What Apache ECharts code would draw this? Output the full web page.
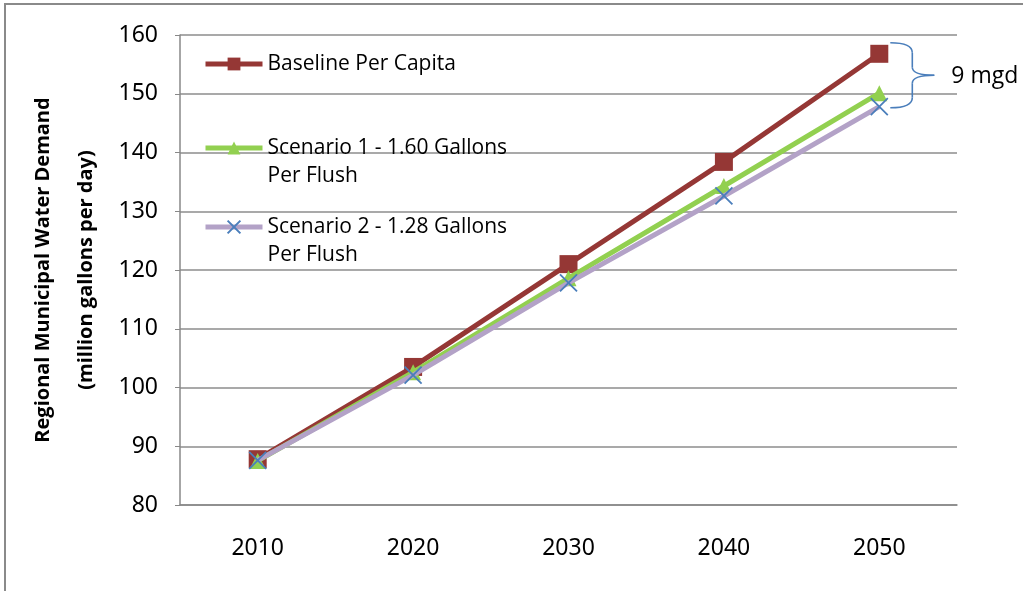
<!DOCTYPE html>
<html>
<head>
<meta charset="utf-8">
<script src="https://cdn.jsdelivr.net/npm/echarts@6/dist/echarts.min.js"></script>
<style>
  html, body { margin: 0; padding: 0; background: #fff; }
  #main { width: 1023px; height: 591px; }
</style>
</head>
<body>
<div id="main"></div>
<script>
// data
var years = ['2010', '2020', '2030', '2040', '2050'];
var baseline = [87.8, 103.5, 121.0, 138.4, 156.8];
var scenario1 = [87.5, 102.6, 118.6, 134.3, 150.1];
var scenario2 = [87.6, 102.1, 117.8, 132.6, 147.8];
var names = ['Baseline Per Capita', 'Scenario 1 - 1.60 Gallons Per Flush', 'Scenario 2 - 1.28 Gallons Per Flush'];
var yTicks = [80, 90, 100, 110, 120, 130, 140, 150, 160];
var gapLabel = '9 mgd';

var textFont = "'Open Sans', 'Noto Sans', sans-serif";
var labelFont = "'Noto Sans', sans-serif";

var chart = echarts.init(document.getElementById('main'));

function legendFor(i, top) {
    return {
        data: [names[i]],
        left: 203,
        top: top,
        padding: 0,
        itemWidth: 57,
        itemHeight: 16,
        lineStyle: { width: 5 },
        formatter: function (n) {
            // wrapped names get an empty first line so line one sits on the icon
            return n.indexOf(' Per Flush') > 0 ? '\n' + n.replace(' Per Flush', '\nPer Flush') : n;
        },
        textStyle: { fontFamily: textFont, fontSize: 21, color: '#000', lineHeight: 28 }
    };
}

chart.setOption({
    animation: false,
    grid: { left: 180, right: 66, top: 35, bottom: 86, outerBoundsMode: 'none' },
    legend: [legendFor(0, 50), legendFor(1, 106), legendFor(2, 185)],
    xAxis: {
        type: 'category',
        data: years,
        boundaryGap: true,
        axisLine: { lineStyle: { color: '#888', width: 1.5 } },
        axisTick: { length: 8, lineStyle: { color: '#888', width: 1 } },
        axisLabel: { margin: 32, fontFamily: labelFont, fontSize: 23, color: '#000' }
    },
    yAxis: {
        type: 'value',
        min: yTicks[0],
        max: yTicks[yTicks.length - 1],
        interval: 10,
        name: 'Regional Municipal Water Demand\n(million gallons per day)',
        nameLocation: 'middle',
        nameRotate: 90,
        nameGap: 66,
        nameTextStyle: { fontFamily: textFont, fontSize: 20, fontWeight: 'bold', color: '#000', lineHeight: 43 },
        axisLine: { show: true, lineStyle: { color: '#888', width: 1.5 } },
        axisTick: { show: true, length: 5, lineStyle: { color: '#888' } },
        axisLabel: { margin: 22, fontFamily: labelFont, fontSize: 23, color: '#000' },
        splitLine: { lineStyle: { color: '#8c8c8c', width: 1.5 } }
    },
    series: [
        {
            name: names[0], type: 'line', data: baseline, z: 3,
            symbol: 'rect', symbolSize: 18,
            lineStyle: { color: '#953735', width: 5 },
            itemStyle: { color: '#953735' }
        },
        {
            name: names[1], type: 'line', data: scenario1, z: 4,
            symbol: 'triangle', symbolSize: 16,
            lineStyle: { color: '#92d050', width: 5 },
            itemStyle: { color: '#92d050' }
        },
        {
            name: names[2], type: 'line', data: scenario2, z: 5,
            symbol: 'path://M0,0L10,10M10,0L0,10', symbolSize: 17,
            lineStyle: { color: '#b3a2c7', width: 5 },
            itemStyle: { color: 'rgba(0,0,0,0)', borderColor: '#4a7ebb', borderWidth: 1.8 }
        }
    ]
});

// brace and note at the 2050 gap, placed from the data
var last = years.length - 1;
var pTop = chart.convertToPixel({ seriesIndex: 0 }, [last, baseline[last]]);
var pBot = chart.convertToPixel({ seriesIndex: 2 }, [last, scenario2[last]]);
var x0 = pTop[0] + 11, y0 = pTop[1] - 11, y1 = pBot[1] + 1, ym = (y0 + y1) / 2;
var x1 = x0 + 22, xt = x0 + 44;
var braceStyle = { fill: 'none', stroke: '#4a7ebb', lineWidth: 1.6 };

function curve(ax, ay, cx, cy, bx, by) {
    return { type: 'bezierCurve', silent: true, shape: { x1: ax, y1: ay, cpx1: cx, cpy1: cy, x2: bx, y2: by }, style: braceStyle };
}
function seg(ax, ay, bx, by) {
    return { type: 'line', silent: true, shape: { x1: ax, y1: ay, x2: bx, y2: by }, style: braceStyle };
}

chart.setOption({
    graphic: [
        // outer chart frame
        { type: 'rect', silent: true, z: 0, shape: { x: 5, y: 4, width: 1030, height: 600 },
          style: { fill: 'none', stroke: '#8a8a8a', lineWidth: 2 } },
        curve(x0, y0, x1, y0, x1, y0 + 10),
        seg(x1, y0 + 10, x1, ym - 8),
        curve(x1, ym - 8, x1, ym, xt, ym),
        curve(xt, ym, x1, ym, x1, ym + 8),
        seg(x1, ym + 8, x1, y1 - 10),
        curve(x1, y1 - 10, x1, y1, x0, y1),
        { type: 'text', silent: true, x: xt + 17, y: ym + 1,
          style: { text: gapLabel, fontFamily: textFont, fontSize: 23, fill: '#000', verticalAlign: 'middle' } }
    ]
});
</script>
</body>
</html>
